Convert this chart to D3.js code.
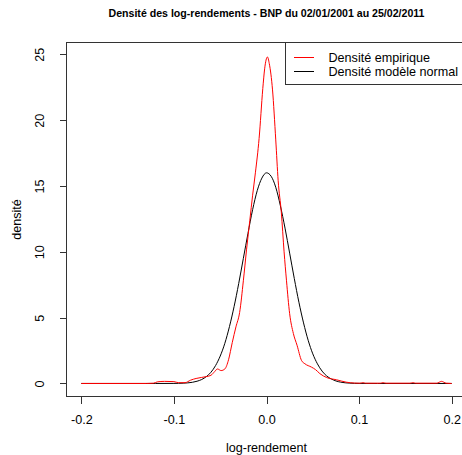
<!DOCTYPE html>
<html>
<head>
<meta charset="utf-8">
<script src="https://cdn.jsdelivr.net/npm/d3@7"></script>
<style>
	body { margin: 0; background: #fff; }
	text { font-family: "Liberation Sans", Arial, sans-serif; fill: #000; }
</style>
</head>
<body>
<div id="chart"></div>
<script>
// ---- données ----
const titre = "Densité des log-rendements - BNP du 02/01/2001 au 25/02/2011";
const xTicks = [-0.2, -0.1, 0.0, 0.1, 0.2];
const yTicks = [0, 5, 10, 15, 20, 25];
const legende = ["Densité empirique", "Densité modèle normal"];

// densité empirique (x, densité)
const empX = [-0.2, -0.13, -0.122, -0.118, -0.11, -0.1, -0.095, -0.088, -0.082, -0.076, -0.07, -0.065,
	-0.06, -0.056, -0.053, -0.049, -0.045, -0.041, -0.037, -0.033, -0.029, -0.025, -0.0215, -0.018,
	-0.015, -0.012, -0.008, -0.004, -0.002, 0.001, 0.003, 0.0065, 0.010, 0.0126, 0.016, 0.019, 0.0216,
	0.025, 0.029, 0.033, 0.0378, 0.0414, 0.0486, 0.053, 0.0576, 0.065, 0.0756, 0.086, 0.095, 0.101,
	0.104, 0.107, 0.123, 0.126, 0.129, 0.155, 0.158, 0.161, 0.184, 0.189, 0.194, 0.2];
const empY = [0, 0, 0.02, 0.12, 0.16, 0.14, 0.06, 0.06, 0.25, 0.38, 0.46, 0.52,
	0.62, 0.9, 1.1, 0.98, 1.1, 1.8, 3.1, 4.3, 5.4, 7.8, 10.2, 12.4,
	14.3, 16.0, 18.6, 22.4, 23.9, 24.8, 24.3, 22.3, 18.5, 15.4, 13.0, 10.0, 7.8,
	5.3, 3.8, 2.9, 1.75, 1.5, 1.24, 1.05, 0.75, 0.45, 0.28, 0.1, 0.03, 0.02,
	0.06, 0.02, 0.02, 0.06, 0.02, 0.02, 0.06, 0.02, 0.02, 0.16, 0.02, 0];

// densité du modèle normal (x, densité)
const normX = [-0.2, -0.12, -0.1, -0.095, -0.09, -0.085, -0.08, -0.075, -0.07, -0.065, -0.06, -0.055,
	-0.05, -0.045, -0.04, -0.035, -0.03, -0.025, -0.02, -0.015, -0.01, -0.005, 0, 0.005, 0.01, 0.015,
	0.02, 0.025, 0.03, 0.035, 0.04, 0.045, 0.05, 0.055, 0.06, 0.065, 0.07, 0.075, 0.08, 0.085, 0.09,
	0.095, 0.1, 0.12, 0.2];
const normY = [0, 0, 0.005, 0.011, 0.023, 0.046, 0.09, 0.17, 0.30, 0.52, 0.85, 1.36,
	2.08, 3.05, 4.32, 5.84, 7.6, 9.5, 11.4, 13.2, 14.65, 15.6, 16.0, 15.74, 14.9, 13.5,
	11.8, 9.9, 7.98, 6.17, 4.6, 3.28, 2.25, 1.49, 0.94, 0.57, 0.34, 0.19, 0.10, 0.05, 0.025,
	0.01, 0.005, 0, 0];

// ---- mise en page ----
const width = 462, height = 455;
const pLeft = 66.5, pRight = 466.5, pTop = 42.5, pBottom = 396.5;

const svg = d3.select("#chart")
	.append("svg")
	.attr("width", width)
	.attr("height", height);

const x = d3.scaleLinear().domain([-0.216, 0.216]).range([pLeft, pRight]);
const y = d3.scaleLinear().domain([-0.99, 25.9]).range([pBottom, pTop]);

// titre
svg.append("text")
	.attr("x", (pLeft + pRight) / 2)
	.attr("y", 17)
	.attr("text-anchor", "middle")
	.style("font-size", "10.6px")
	.style("font-weight", "bold")
	.text(titre);

// axe x
const gx = svg.append("g")
	.attr("transform", "translate(0," + pBottom + ")")
	.call(d3.axisBottom(x).tickValues(xTicks).tickSize(7).tickPadding(12));
gx.select(".domain").attr("d", "M" + x(-0.2) + ",0H" + x(0.2));
gx.selectAll("text")
	.style("font-size", "12.6px")
	.style("font-family", "Liberation Sans, Arial, sans-serif")
	.text(function(d){ return d3.format(".1f")(d).replace("\u2212", "-"); });

// axe y
const gy = svg.append("g")
	.attr("transform", "translate(" + pLeft + ",0)")
	.call(d3.axisLeft(y).tickValues(yTicks).tickSize(7));
gy.select(".domain").attr("d", "M0," + y(0) + "V" + y(25));
gy.selectAll("text")
	.attr("transform", "rotate(-90)")
	.attr("x", 0)
	.attr("y", -22.5)
	.attr("dy", 0)
	.attr("text-anchor", "middle")
	.style("font-size", "12.6px")
	.style("font-family", "Liberation Sans, Arial, sans-serif");

svg.selectAll(".tick line, .domain").style("stroke", "#333").style("shape-rendering", "crispEdges");

// titres des axes
svg.append("text")
	.attr("x", (pLeft + pRight) / 2)
	.attr("y", 452)
	.attr("text-anchor", "middle")
	.style("font-size", "12.6px")
	.text("log-rendement");

svg.append("text")
	.attr("transform", "translate(21," + ((pTop + pBottom) / 2) + ") rotate(-90)")
	.attr("text-anchor", "middle")
	.style("font-size", "12.6px")
	.text("densité");

// courbes
const ligne = d3.line()
	.x(function(d){ return x(d[0]); })
	.y(function(d){ return y(d[1]); })
	.curve(d3.curveMonotoneX);

svg.append("path")
	.datum(d3.zip(normX, normY))
	.attr("d", ligne)
	.style("fill", "none")
	.style("stroke", "#000")
	.style("stroke-width", 1);

svg.append("path")
	.datum(d3.zip(empX, empY))
	.attr("d", ligne)
	.style("fill", "none")
	.style("stroke", "#ff0000")
	.style("stroke-width", 1);

// cadre
svg.append("rect")
	.attr("x", pLeft).attr("y", pTop)
	.attr("width", pRight - pLeft).attr("height", pBottom - pTop)
	.style("fill", "none")
	.style("stroke", "#333")
	.style("shape-rendering", "crispEdges");

// légende
const leg = svg.append("g");
leg.append("rect")
	.attr("x", 285.5).attr("y", pTop)
	.attr("width", 200).attr("height", 42)
	.style("fill", "#fff")
	.style("stroke", "#333")
	.style("shape-rendering", "crispEdges");

const couleurs = ["#ff0000", "#000"];
const legY = [57.5, 71.5];
leg.selectAll("line")
	.data(legende).enter()
	.append("line")
	.attr("x1", 294).attr("x2", 314)
	.attr("y1", function(d, i){ return legY[i]; })
	.attr("y2", function(d, i){ return legY[i]; })
	.style("stroke", function(d, i){ return couleurs[i]; });

leg.selectAll("text")
	.data(legende).enter()
	.append("text")
	.attr("x", 328.5)
	.attr("y", function(d, i){ return legY[i] + 4.5; })
	.style("font-size", "12.6px")
	.text(function(d){ return d; });
</script>
</body>
</html>
